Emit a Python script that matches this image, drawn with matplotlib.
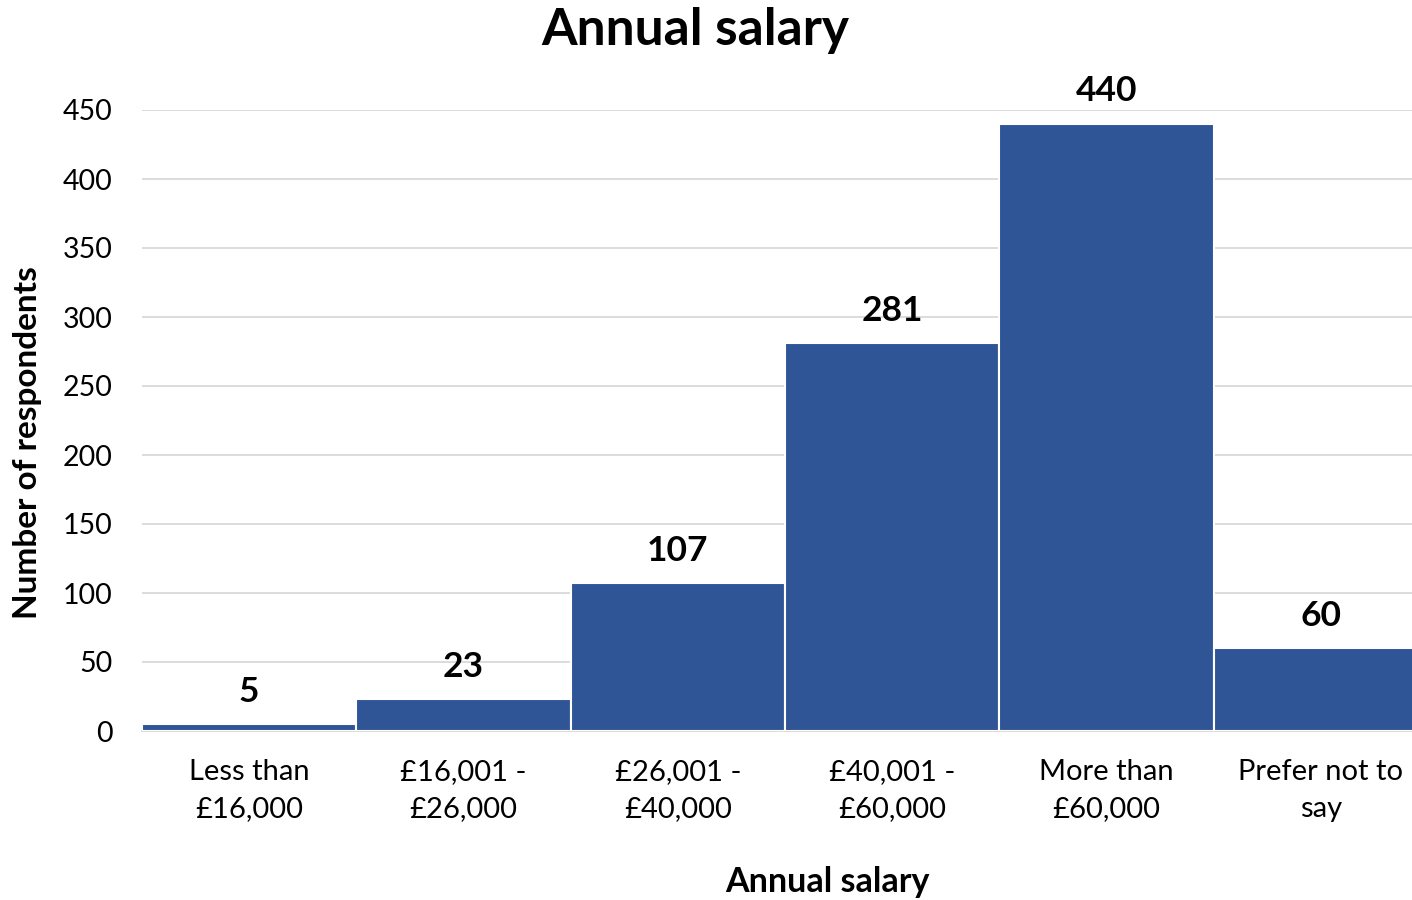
import matplotlib
matplotlib.use('Agg')
import matplotlib.pyplot as plt

# chart data
categories = ['Less than\n£16,000', '£16,001 -\n£26,000', '£26,001 -\n£40,000',
              '£40,001 -\n£60,000', 'More than\n£60,000', 'Prefer not to\nsay']
respondents = [5, 23, 107, 281, 440, 60]
y_ticks = [0, 50, 100, 150, 200, 250, 300, 350, 400, 450]

plt.rcParams['font.family'] = ['Lato', 'DejaVu Sans']

fig = plt.figure(figsize=(14.12, 9), dpi=100)
# last bar runs off the right edge in the original, so the axes does too
ax = fig.add_axes([142 / 1412, 169 / 900, 1286 / 1412, 621 / 900])

x = range(len(categories))
bars = ax.bar(x, respondents, width=1.0, color='#2F5597', edgecolor='white',
              linewidth=1.5, zorder=3)

for rect, val in zip(bars, respondents):
    ax.text(rect.get_x() + rect.get_width() / 2, val + 12, str(val),
            ha='center', va='bottom', fontsize=25.5, fontweight='bold', color='black')

ax.set_xlim(-0.5, len(categories) - 0.5)
ax.set_ylim(0, 450)
ax.set_yticks(y_ticks)
ax.set_xticks(list(x))
ax.set_xticklabels(categories, fontsize=21, linespacing=1.5)
ax.tick_params(axis='y', length=0, pad=21, labelsize=20.5)
ax.tick_params(axis='x', length=0, pad=20.5)
ax.grid(axis='y', color='#D9D9D9', linewidth=1.3, zorder=0)
for side in ['top', 'right', 'left']:
    ax.spines[side].set_visible(False)
ax.spines['bottom'].set_color('#D9D9D9')
ax.spines['bottom'].set_linewidth(1.3)

fig.text(695 / 1412, 1 - 30 / 900, 'Annual salary', ha='center', va='center',
         fontsize=37, fontweight='bold')
fig.text(827 / 1412, 1 - 882 / 900, 'Annual salary', ha='center', va='center',
         fontsize=24.5, fontweight='bold')
fig.text(28 / 1412, 1 - 443 / 900, 'Number of respondents', ha='center', va='center',
         rotation=90, fontsize=24, fontweight='bold')

fig.savefig('out.png', dpi=100)
